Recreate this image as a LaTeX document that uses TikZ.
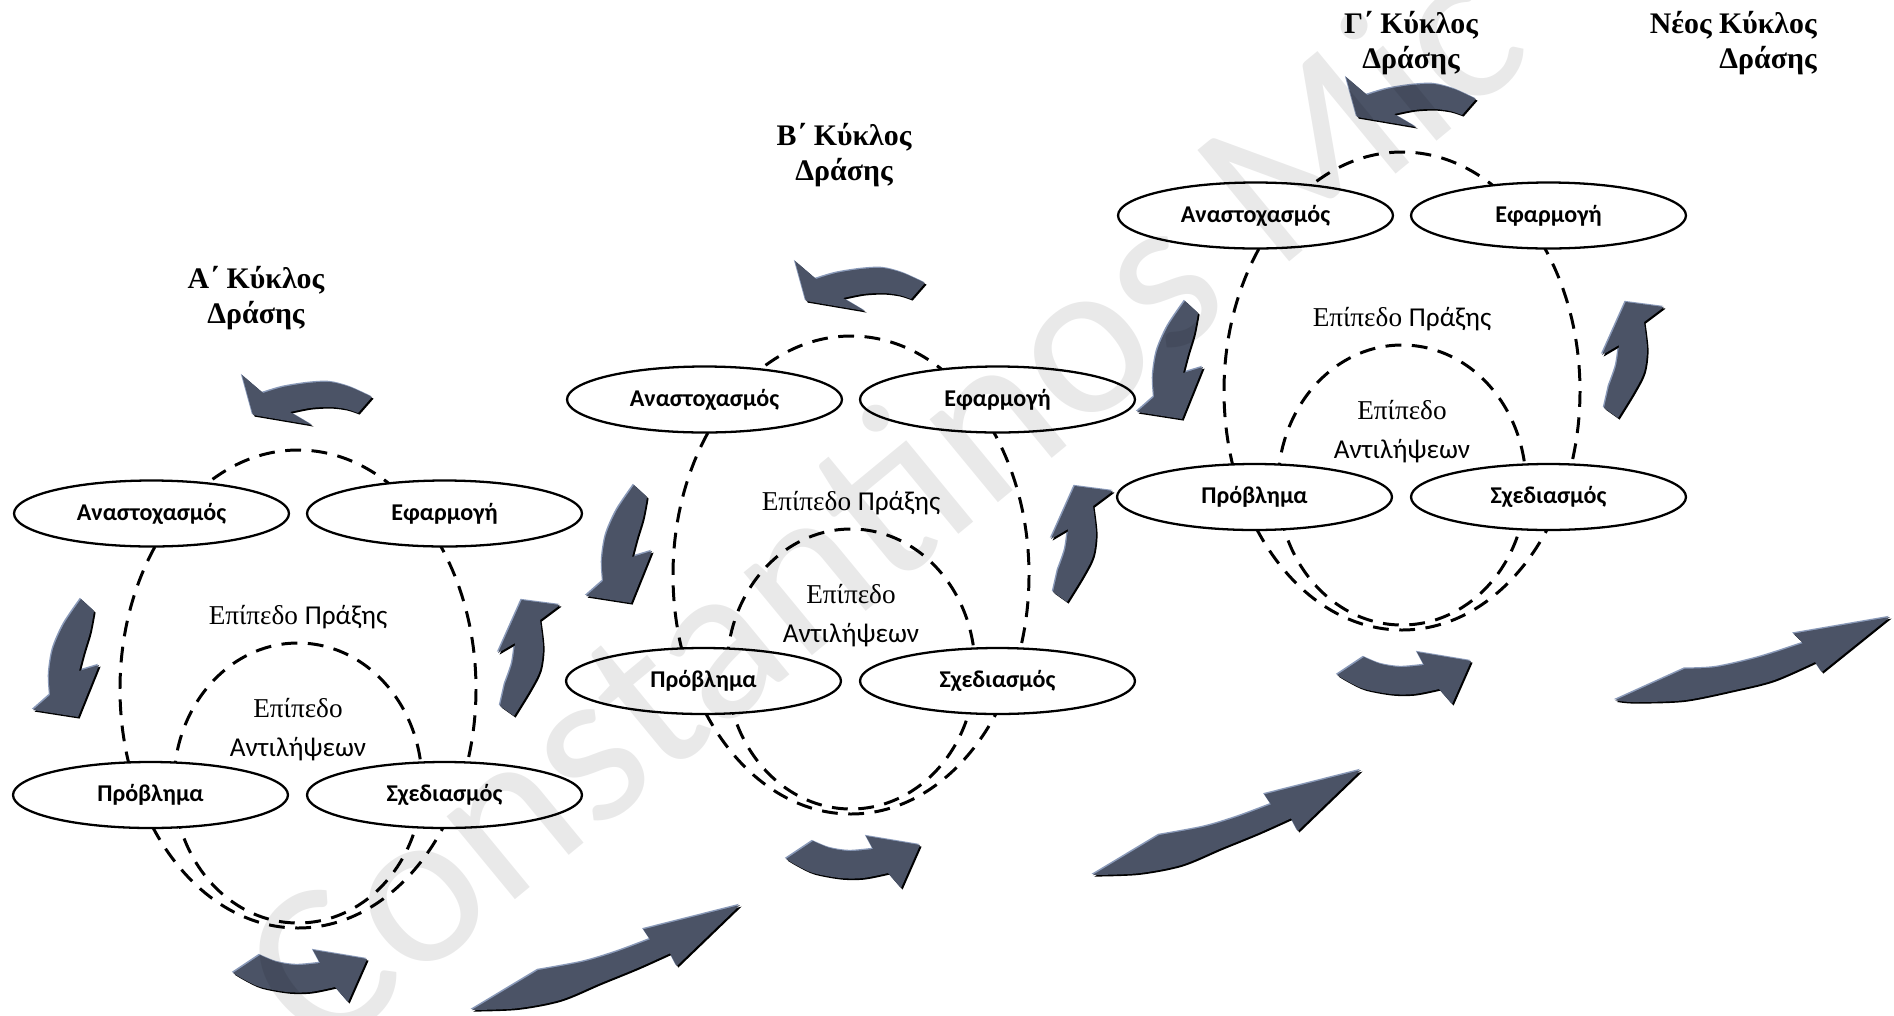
\documentclass[tikz,border=0pt]{standalone}
\usepackage{fontspec}
\setmainfont{Liberation Serif}
\newfontfamily\lblfont{Carlito}
\usetikzlibrary{shapes.geometric}
\definecolor{slate}{HTML}{4B5366}
\definecolor{slatelight}{HTML}{8A9AB9}

% one filled 3D-looking arrow: light upper edge, dark lower edge, slate body
\newcommand\solidarrow[1]{%
  \fill[slatelight, shift={(-1.2,-1.2)}] #1;
  \fill[black, shift={(1.6,1.6)}] #1;
  \fill[slate] #1;}

% arrow outlines, relative to the centre of a cycle (pixel units, y down)
\newcommand\toparrow{plot[smooth] coordinates {(74,-292) (52,-302) (32,-307) (10,-306) (-15,-302) (-35,-296)} -- (-56,-314) -- (-45,-274) -- (14,-264) -- plot[smooth] coordinates {(-8,-277) (12,-281) (32,-282) (48,-280) (60,-276)} -- cycle}
\newcommand\bottomarrow{plot[smooth] coordinates {(-38,266) (-21,273) (-1,276) (22,274)} -- (15,261) -- (69,270) -- (50,313) -- plot[smooth] coordinates {(37,298) (12,303) (-11,303) (-38,298) (-55,290) (-65,284)} -- cycle}
\newcommand\leftarrowshape{plot[smooth] coordinates {(-217,-90) (-204,-78)} -- plot[smooth] coordinates {(-204,-78) (-208,-57) (-214,-37) (-219,-18)} -- (-199,-24) -- (-220,28) -- (-265,21) -- plot[smooth] coordinates {(-248,6) (-249,-15) (-245,-40) (-234,-65) (-217,-90)} -- cycle}
\newcommand\rightarrowshape{(223.7,-89) -- (262,-84) -- plot[smooth] coordinates {(242,-69) (245,-42) (242,-19) (232,1) (216,27)} -- (202,17) -- plot[smooth] coordinates {(207,-5) (214,-25) (217,-46)} -- (200,-36) -- cycle}
% long rising arrows, relative to their tip
\newcommand\longarrowA{(0,0) -- (-63.3,61) -- plot[smooth] coordinates {(-70,48.3) (-103.3,63.3) (-140,78.3) (-180,95) (-223.3,103.3) (-268.3,105)} -- plot[smooth] coordinates {(-201.7,65) (-156.7,56.7) (-123.3,46.7) (-90,34.3)} -- (-96.7,24.3) -- cycle}
\newcommand\longarrowB{(0,0) -- (-68.3,55) -- plot[smooth] coordinates {(-75,45) (-116.7,63.3) (-156.7,73.3) (-206.7,83.3) (-256.7,85) (-275,83.3)} -- plot[smooth] coordinates {(-205,51.6) (-173.3,50) (-130,40) (-86.7,26)} -- (-96.7,16.6) -- cycle}

% one action cycle: #1,#2 centre, #3 name prefix
\newcommand\actioncycle[3]{%
\begin{scope}[shift={(#1,#2)}]
  \draw[level] (0,0) ellipse [x radius=178, y radius=239];
  \draw[level] (0,94) ellipse [x radius=124, y radius=140];
  \node[stage] (#3refl) at (-146.5,-175.5) {Αναστοχασμός};
  \node[stage] (#3impl) at (146.5,-175.5) {Εφαρμογή};
  \node[stage] (#3prob) at (-147.5,106) {Πρόβλημα};
  \node[stage] (#3plan) at (146.5,106) {Σχεδιασμός};
  \node[levellabel] (#3practice) at (0,-72) {Επίπεδο {\lblfont Πράξης}};
  \node[levellabel] (#3percA) at (0,19) {Επίπεδο};
  \node[levellabel, font=\lblfont\fontsize{15.5}{18}\selectfont] (#3percB) at (0,60) {Αντιλήψεων};
  \solidarrow{\toparrow}
  \solidarrow{\bottomarrow}
  \solidarrow{\leftarrowshape}
  \solidarrow{\rightarrowshape}
\end{scope}}

\begin{document}
\begin{tikzpicture}[x=0.02cm, y=-0.02cm,
  stage/.style={ellipse, draw, line width=1.3pt, fill=white,
    minimum width=5.5cm, minimum height=1.32cm, inner sep=0pt,
    font=\lblfont\bfseries\fontsize{13.7}{16}\selectfont},
  level/.style={line width=1.7pt, dash pattern=on 9pt off 6pt},
  levellabel/.style={inner sep=0pt, font=\fontsize{15.5}{18}\selectfont},
  title/.style={align=center, inner sep=0pt,
    font=\bfseries\fontsize{17}{20}\selectfont}]
\useasboundingbox (0,0) rectangle (1894,1015);
\clip (0,0) rectangle (1894,1015);

\actioncycle{298}{689}{a}
\actioncycle{851}{575}{b}
\actioncycle{1402}{391}{c}

\node[title] (titleA) at (256,298) {Α΄ Κύκλος\\Δράσης};
\node[title] (titleB) at (844,155) {Β΄ Κύκλος\\Δράσης};
\node[title] (titleC) at (1411,43) {Γ΄ Κύκλος\\Δράσης};
\node[title, align=right, anchor=east] (titleN) at (1817,43) {Νέος Κύκλος\\Δράσης};

\begin{scope}[shift={(740,905)}]\solidarrow{\longarrowA}\end{scope}
\begin{scope}[shift={(1361,770)}]\solidarrow{\longarrowA}\end{scope}
\begin{scope}[shift={(1890,617)}]\solidarrow{\longarrowB}\end{scope}

\node[rotate=39.5, text=black, text opacity=0.085, inner sep=0pt,
  font=\lblfont\fontsize{128}{128}\selectfont] (mark) at (880,500) {Constantinos Mic};
\end{tikzpicture}
\end{document}
